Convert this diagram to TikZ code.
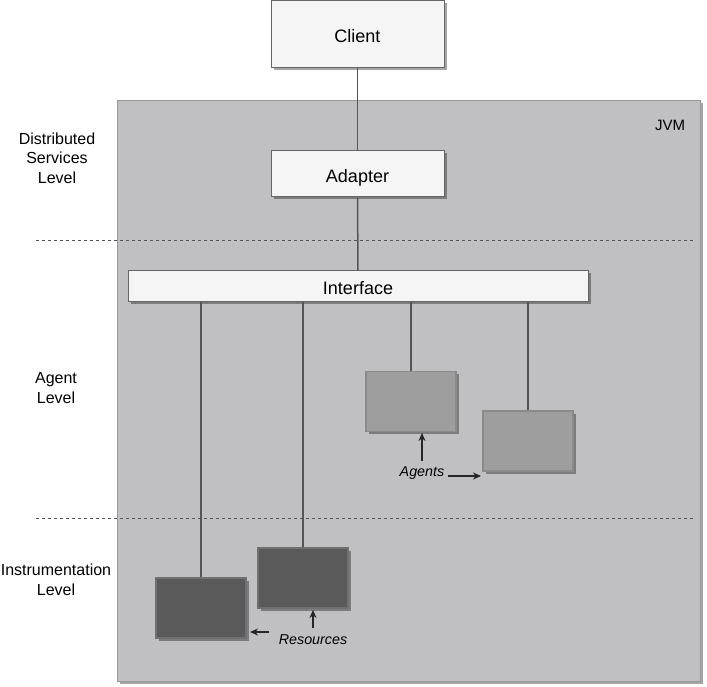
\documentclass[tikz,border=0pt]{standalone}
\usepackage{fontspec}
\setmainfont{Liberation Sans}
\usetikzlibrary{shadows,arrows.meta}
\definecolor{jvmfill}{HTML}{C0C0C2}
\definecolor{jvmdraw}{HTML}{999999}
\definecolor{boxfill}{HTML}{F5F5F5}
\definecolor{boxdraw}{HTML}{666666}
\definecolor{agentfill}{HTML}{9E9E9E}
\definecolor{agentdraw}{HTML}{8A8A8A}
\definecolor{resfill}{HTML}{5A5A5A}
\definecolor{resdraw}{HTML}{707070}
\definecolor{linecol}{HTML}{555555}
\begin{document}
\begin{tikzpicture}[x=1pt,y=-1pt,
  shd/.style={drop shadow={shadow xshift=2.5pt,shadow yshift=-2.5pt,opacity=0.35,fill=black}},
  box/.style={draw=boxdraw,fill=boxfill,line width=1pt,shd,inner sep=0pt,text height=17pt,text depth=0pt,font=\fontsize{18}{21}\selectfont},
  agentbox/.style={draw=agentdraw,fill=agentfill,line width=1.2pt,shd,minimum width=90pt,minimum height=60pt,inner sep=0pt},
  resbox/.style={draw=resdraw,fill=resfill,line width=1.2pt,shd,minimum width=90pt,minimum height=60pt,inner sep=0pt},
  conn/.style={draw=linecol,line width=1.5pt},
  sep/.style={draw=linecol,line width=1pt,dash pattern=on 3pt off 3pt},
  lvl/.style={align=center,font=\fontsize{16}{19.5}\selectfont},
  note/.style={font=\fontsize{14.3}{17}\selectfont\itshape},
  pointer/.style={draw=black!85,line width=1.1pt,-{Stealth[length=8pt,width=7pt]}}
]
\useasboundingbox (0,0) rectangle (707,687);
\fill[white] (0,0) rectangle (707,687);

% JVM container
\node[draw=jvmdraw,fill=jvmfill,line width=1pt,shd,minimum width=583pt,minimum height=580pt,inner sep=0pt] (jvm) at (408.5,391) {};
\node[font=\fontsize{15}{18}\selectfont] (jvmlabel) at (670,125) {JVM};

% level separators
\coordinate (s1a) at (36,241);
\coordinate (s1b) at (693,241);
\coordinate (s2a) at (36,518);
\coordinate (s2b) at (693,518);
\draw[sep] (s1a) -- (s1b);
\draw[sep] (s2a) -- (s2b);

% level labels
\node[lvl] (lvl1) at (57,158) {Distributed\\Services\\Level};
\node[lvl] (lvl2) at (56,388) {Agent\\Level};
\node[lvl] (lvl3) at (56,580) {Instrumentation\\Level};

% boxes
\node[box,minimum width=173pt,minimum height=67pt] (client) at (357.5,34.5) {Client};
\node[box,minimum width=173pt,minimum height=46pt] (adapter) at (357.5,174) {Adapter};
\node[box,minimum width=460pt,minimum height=30pt] (iface) at (358,286) {Interface};

\node[agentbox] (ag1) at (411,401.5) {};
\node[agentbox] (ag2) at (528,441) {};
\node[resbox] (res1) at (201,608) {};
\node[resbox] (res2) at (303,578) {};

% connectors
\draw[conn] (client.south) -- (adapter.north);
\draw[conn] (adapter.south) -- (iface.north);
\draw[conn] (res1.north) -- (res1.north |- iface.south);
\draw[conn] (res2.north) -- (res2.north |- iface.south);
\draw[conn] (ag1.north) -- (ag1.north |- iface.south);
\draw[conn] (ag2.north) -- (ag2.north |- iface.south);

% annotations
\node[note] (agents) at (422,473) {Agents};
\coordinate (ag1tail) at (422,461);
\coordinate (ag1tip) at (422,433);
\draw[pointer] (ag1tail) -- (ag1tip);
\coordinate (ag2tail) at (448,476);
\coordinate (ag2tip) at (481,476);
\draw[pointer] (ag2tail) -- (ag2tip);

\node[note] (resources) at (313,640) {Resources};
\coordinate (res2tail) at (313,628);
\coordinate (res2tip) at (313,610);
\draw[pointer] (res2tail) -- (res2tip);
\coordinate (res1tail) at (269,632);
\coordinate (res1tip) at (250,632);
\draw[pointer] (res1tail) -- (res1tip);
\end{tikzpicture}
\end{document}
